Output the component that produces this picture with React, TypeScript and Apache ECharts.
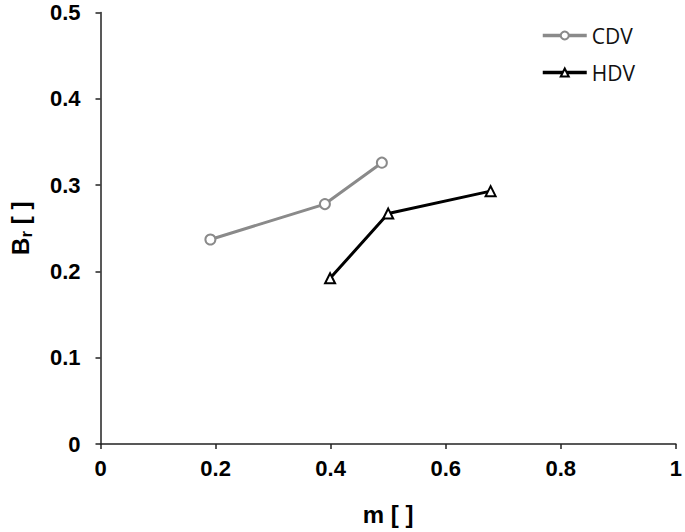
import React, { useEffect, useRef } from "react";
import * as echarts from "echarts";

const cdvX = [0.191, 0.39, 0.489];
const cdvY = [0.237, 0.278, 0.326];
const hdvX = [0.399, 0.5, 0.678];
const hdvY = [0.192, 0.267, 0.293];
const xTicks = [0, 0.2, 0.4, 0.6, 0.8, 1];
const yTicks = [0, 0.1, 0.2, 0.3, 0.4, 0.5];

export default function App() {
  const ref = useRef<HTMLDivElement>(null);
  useEffect(() => {
    if (!ref.current) return;
    const chart = echarts.init(ref.current, undefined, { renderer: "svg" });
    const font = "'Liberation Sans', Arial, sans-serif";
    chart.setOption({
      animation: false,
      grid: { left: 96, right: 8, top: 12.5, bottom: 88 },
      legend: {
        orient: "vertical",
        left: 536,
        top: 20,
        itemWidth: 44,
        itemHeight: 10,
        itemGap: 16,
        inactiveBorderWidth: 0,
        textStyle: { fontFamily: "'Open Sans', sans-serif", fontSize: 21, color: "#111" },
        data: [
          { name: "CDV", lineStyle: { width: 3.5, color: "#8a8a8a" } },
          { name: "HDV", lineStyle: { width: 3.5, color: "#000" } },
        ],
      },
      xAxis: {
        type: "value",
        min: 0,
        max: 1,
        interval: 0.2,
        name: "m [ ]",
        nameLocation: "middle",
        nameGap: 58,
        nameTextStyle: { fontFamily: font, fontWeight: "bold", fontSize: 24, color: "#000" },
        axisLine: { show: true, lineStyle: { color: "#222", width: 1.5 } },
        axisTick: { show: true, inside: false, length: 5, lineStyle: { color: "#222", width: 1.5 } },
        axisLabel: {
          margin: 13,
          fontFamily: font,
          fontWeight: "bold",
          fontSize: 22,
          color: "#000",
          formatter: (v: number) => {
            const t = xTicks.find((x) => Math.abs(x - v) < 1e-9);
            return t === undefined ? "" : String(t);
          },
        },
        splitLine: { show: false },
      },
      yAxis: {
        type: "value",
        min: 0,
        max: 0.5,
        interval: 0.1,
        name: "{b|B}{s|r}{b| [ ]}",
        nameLocation: "middle",
        nameGap: 66,
        nameRotate: 90,
        nameTextStyle: {
          rich: {
            b: { fontFamily: font, fontWeight: "bold", fontSize: 24, color: "#000" },
            s: { fontFamily: font, fontWeight: "bold", fontSize: 17, color: "#000", verticalAlign: "bottom", padding: [12, 0, 0, 0] },
          },
        },
        axisLine: { show: true, lineStyle: { color: "#222", width: 1.5 } },
        axisTick: { show: true, inside: false, length: 5, lineStyle: { color: "#222", width: 1.5 } },
        axisLabel: {
          margin: 20,
          fontFamily: font,
          fontWeight: "bold",
          fontSize: 22,
          color: "#000",
          formatter: (v: number) => {
            const t = yTicks.find((x) => Math.abs(x - v) < 1e-9);
            return t === undefined ? "" : String(t);
          },
        },
        splitLine: { show: false },
      },
      series: [
        {
          name: "CDV",
          type: "line",
          data: cdvX.map((x, i) => [x, cdvY[i]]),
          symbol: "circle",
          symbolSize: 10,
          showAllSymbol: true,
          lineStyle: { color: "#8a8a8a", width: 3 },
          itemStyle: { color: "#fff", borderColor: "#8a8a8a", borderWidth: 2 },
          color: "#8a8a8a",
        },
        {
          name: "HDV",
          type: "line",
          data: hdvX.map((x, i) => [x, hdvY[i]]),
          symbol: "triangle",
          symbolSize: 10,
          showAllSymbol: true,
          lineStyle: { color: "#000", width: 3 },
          itemStyle: { color: "#fff", borderColor: "#000", borderWidth: 2 },
          color: "#000",
        },
      ],
    });
    return () => chart.dispose();
  }, []);
  return <div ref={ref} style={{ width: 685, height: 532, position: "absolute", left: 0, top: 0 }} />;
}
